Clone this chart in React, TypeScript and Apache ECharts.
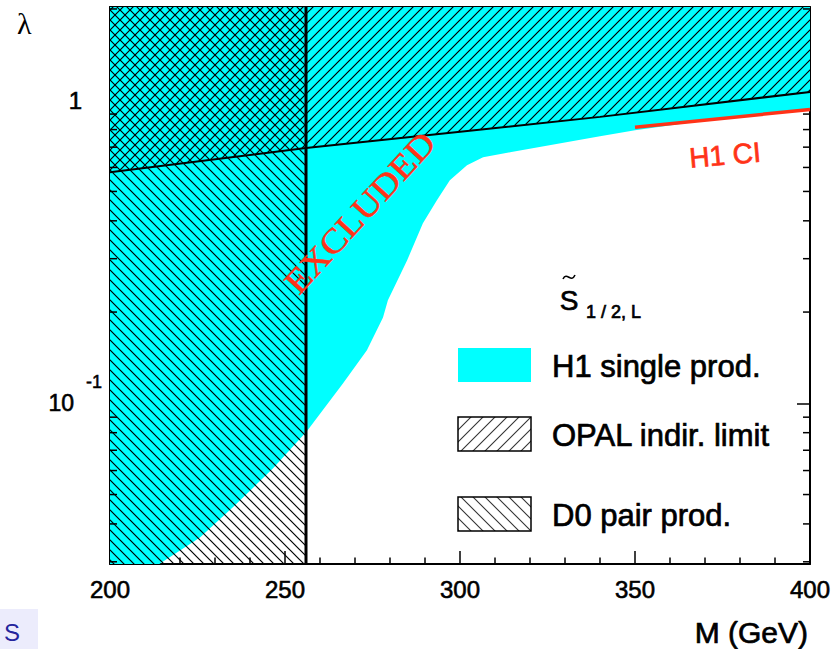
import React, { useEffect, useRef } from 'react';
import * as echarts from 'echarts';

// Axis ranges
const massMin = 200;
const massMax = 400;
const lambdaMin = 0.0295;
const lambdaMax = 2.03;

// Tick values
const massTicks = [200, 250, 300, 350, 400];
const lambdaTickLabels = [1, 0.1];
const lambdaMinorTicks = [0.03, 0.04, 0.05, 0.06, 0.07, 0.08, 0.09, 0.2, 0.3, 0.4, 0.5, 0.6, 0.7, 0.8, 0.9, 2];

// H1 single production limit (lower edge of the excluded region)
const h1Mass = [200, 214.3, 225.7, 235.1, 246.6, 256.3, 266.6, 273.4, 278, 279.4, 284.9, 289.4, 293.4, 297.1, 302.0, 306.6, 314.3, 340, 350, 368.6, 385.7, 400];
const h1Lambda = [0.023, 0.0296, 0.0361, 0.0454, 0.061, 0.081, 0.1164, 0.1496, 0.192, 0.2188, 0.2965, 0.3927, 0.4677, 0.5445, 0.6103, 0.6482, 0.6734, 0.7606, 0.796, 0.8525, 0.899, 0.934];

// OPAL indirect limit
const opalMass = [200, 256, 340, 400];
const opalLambda = [0.578, 0.695, 0.881, 1.065];

// D0 pair production mass limit
const d0MassLimit = 256;

// H1 contact interaction limit
const ciMass = [350, 400];
const ciLambda = [0.8145, 0.932];

const SANS = '"Liberation Sans", Arial, Helvetica, sans-serif';
const SERIF = '"Liberation Serif", "Times New Roman", serif';
const CYAN = '#00ffff';
const RED = '#ff3318';

function hatch(dir: 'fwd' | 'back', p: number, width: number, color: string) {
  const d =
    dir === 'fwd'
      ? `M0,${p} L${p},0 M-1,1 L1,-1 M${p - 1},${p + 1} L${p + 1},${p - 1}`
      : `M0,0 L${p},${p} M${p - 1},-1 L${p + 1},1 M-1,${p - 1} L1,${p + 1}`;
  const svg = `<svg xmlns='http://www.w3.org/2000/svg' width='${p}' height='${p}'><path d='${d}' stroke='${color}' stroke-width='${width}' fill='none'/></svg>`;
  return {
    image: 'data:image/svg+xml;charset=utf-8,' + encodeURIComponent(svg),
    repeat: 'repeat',
    imageWidth: p,
    imageHeight: p,
  };
}

const fwdHatch = hatch('fwd', 10, 1.2, '#000');
const backHatch = hatch('back', 10, 1.2, '#000');
const fwdHatchLegend = hatch('fwd', 12, 1.1, '#333');
const backHatchLegend = hatch('back', 12, 1.1, '#333');

function regionSeries(name: string, masses: number[], lambdas: number[], fill: any, z: number) {
  return {
    type: 'custom',
    name,
    coordinateSystem: 'cartesian2d',
    clip: true,
    silent: true,
    z,
    data: [[masses[0], lambdas[0]]],
    renderItem: (_params: any, api: any) => {
      const points = masses.map((m, i) => api.coord([m, lambdas[i]]));
      return { type: 'polygon', shape: { points }, style: { fill, stroke: null } };
    },
  };
}

const approx = (a: number, b: number) => Math.abs(a - b) / b < 1e-6;

// slightly heavier sans text, as in the printed figure
const heavy = (color: string, w = 0.7) => ({ textBorderColor: color, textBorderWidth: w });

function label(text: string, x: number, y: number, size: number, align = 'left') {
  return {
    type: 'text',
    x,
    y,
    style: {
      text,
      fill: '#000',
      font: `${size}px ${SANS}`,
      align,
      verticalAlign: 'middle',
      textAlign: align,
      textVerticalAlign: 'middle',
      stroke: '#000',
      lineWidth: 0.7,
    },
  };
}

export default function App() {
  const ref = useRef<HTMLDivElement>(null);

  useEffect(() => {
    if (!ref.current) return;
    const chart = echarts.init(ref.current, null, { renderer: 'svg' });

    const cyanMass = [...h1Mass, massMax, massMin];
    const cyanLambda = [...h1Lambda, lambdaMax, lambdaMax];
    const d0Mass = [massMin, d0MassLimit, d0MassLimit, massMin];
    const d0Lambda = [lambdaMin, lambdaMin, lambdaMax, lambdaMax];
    const opalRegionMass = [...opalMass, massMax, massMin];
    const opalRegionLambda = [...opalLambda, lambdaMax, lambdaMax];

    const xAxisBase = {
      type: 'value',
      min: massMin,
      max: massMax,
      interval: 50,
      axisLine: { show: true, onZero: false, lineStyle: { color: '#000', width: 2 } },
      axisTick: { show: true, inside: true, length: 13, lineStyle: { color: '#000', width: 1.5 } },
      minorTick: { show: true, splitNumber: 5, length: 6.5, lineStyle: { color: '#000', width: 1.5 } },
      splitLine: { show: false },
      minorSplitLine: { show: false },
    };
    const yAxisBase = {
      type: 'log',
      logBase: 10,
      min: lambdaMin,
      max: lambdaMax,
      axisLine: { show: true, onZero: false, lineStyle: { color: '#000', width: 2 } },
      axisTick: { show: true, inside: true, length: 13, lineStyle: { color: '#000', width: 1.5 } },
      splitLine: { show: false },
    };

    chart.setOption({
      animation: false,
      backgroundColor: '#fff',
      grid: { left: 110, right: 28, top: 7, bottom: 85, containLabel: false },
      xAxis: [
        {
          ...xAxisBase,
          position: 'bottom',
          axisLabel: {
            margin: 13,
            fontSize: 24,
            fontFamily: SANS,
            color: '#000',
            ...heavy('#000', 0.6),
            formatter: (v: number) => (massTicks.includes(v) ? String(v) : ''),
          },
        },
        { ...xAxisBase, position: 'top', axisLabel: { show: false } },
      ],
      yAxis: [
        {
          ...yAxisBase,
          position: 'left',
          axisLabel: {
            margin: 8,
            color: '#000',
            fontFamily: SANS,
            formatter: (v: number) => {
              if (approx(v, lambdaTickLabels[0])) return '{one|1}';
              if (approx(v, lambdaTickLabels[1])) return '{b|10}{s|-1}';
              return '';
            },
            rich: {
              one: { fontSize: 24, fontFamily: SANS, color: '#000', padding: [0, 20, 0, 0], ...heavy('#000', 0.6) },
              b: { fontSize: 23, fontFamily: SANS, color: '#000', ...heavy('#000', 0.6) },
              s: { fontSize: 18, fontFamily: SANS, color: '#000', padding: [0, 0, 42, 12], ...heavy('#000', 0.5) },
            },
          },
        },
        { ...yAxisBase, position: 'right', axisLabel: { show: false } },
      ],
      series: [
        regionSeries('H1 single prod.', cyanMass, cyanLambda, CYAN, 1),
        regionSeries('D0 pair prod.', d0Mass, d0Lambda, backHatch, 2),
        regionSeries('OPAL indir. limit', opalRegionMass, opalRegionLambda, fwdHatch, 3),
        {
          type: 'line',
          name: 'OPAL line',
          data: opalMass.map((m, i) => [m, opalLambda[i]]),
          symbol: 'none',
          silent: true,
          z: 4,
          lineStyle: { color: '#000', width: 2 },
        },
        {
          type: 'line',
          name: 'D0 line',
          data: [
            [d0MassLimit, lambdaMin],
            [d0MassLimit, lambdaMax],
          ],
          symbol: 'none',
          silent: true,
          z: 4,
          lineStyle: { color: '#000', width: 3 },
        },
        {
          type: 'line',
          name: 'H1 CI',
          data: ciMass.map((m, i) => [m, ciLambda[i]]),
          symbol: 'none',
          silent: true,
          z: 5,
          lineStyle: { color: RED, width: 3.5 },
        },
        // minor log ticks on both vertical frame edges
        {
          type: 'custom',
          name: 'minor ticks',
          coordinateSystem: 'cartesian2d',
          silent: true,
          z: 6,
          data: lambdaMinorTicks.map((v) => [massMin, v]),
          renderItem: (_params: any, api: any) => {
            const v = api.value(1);
            const l = api.coord([massMin, v]);
            const r = api.coord([massMax, v]);
            const st = { stroke: '#000', lineWidth: 1.5 };
            return {
              type: 'group',
              children: [
                { type: 'line', shape: { x1: l[0], y1: l[1], x2: l[0] + 7, y2: l[1] }, style: st },
                { type: 'line', shape: { x1: r[0], y1: r[1], x2: r[0] - 7, y2: r[1] }, style: st },
              ],
            };
          },
        },
        // region annotations
        {
          type: 'custom',
          name: 'annotations',
          coordinateSystem: 'cartesian2d',
          silent: true,
          z: 7,
          data: [[271.4, 0.427]],
          renderItem: (_params: any, api: any) => {
            const ex = api.coord([271.4, 0.425]);
            const ci = api.coord([375.7, 0.658]);
            return {
              type: 'group',
              children: [
                {
                  type: 'text',
                  x: ex[0],
                  y: ex[1],
                  rotation: (47.5 * Math.PI) / 180,
                  scaleX: 1.12,
                  style: {
                    text: 'EXCLUDED',
                    fill: RED,
                    font: `34px ${SERIF}`,
                    align: 'center',
                    verticalAlign: 'middle',
                    stroke: RED,
                    lineWidth: 0.5,
                  },
                },
                {
                  type: 'text',
                  x: ci[0],
                  y: ci[1],
                  rotation: (5 * Math.PI) / 180,
                  style: {
                    text: 'H1 CI',
                    fill: RED,
                    font: `28px ${SANS}`,
                    align: 'center',
                    verticalAlign: 'middle',
                    stroke: RED,
                    lineWidth: 0.7,
                  },
                },
              ],
            };
          },
        },
      ],
      graphic: [
        {
          type: 'text',
          left: 17,
          top: 8,
          style: { text: 'λ', fill: '#000', font: `30px ${SERIF}` },
        },
        label('M (GeV)', 808, 632, 30, 'right'),
        // legend title: S with tilde and subscript
        {
          type: 'bezierCurve',
          shape: { x1: 563, y1: 279, cpx1: 567, cpy1: 271, cpx2: 571, cpy2: 284, x2: 575, y2: 275 },
          style: { stroke: '#000', lineWidth: 1.6, fill: null },
        },
        label('S', 569, 300, 28, 'center'),
        label('1 / 2, L', 586, 312, 18, 'left'),
        // legend entries
        { type: 'rect', shape: { x: 458, y: 348, width: 73, height: 34 }, style: { fill: CYAN } },
        label('H1 single prod.', 552, 366, 31),
        { type: 'rect', shape: { x: 458, y: 417, width: 73, height: 34 }, style: { fill: '#fff' } },
        { type: 'rect', shape: { x: 458, y: 417, width: 73, height: 34 }, style: { fill: fwdHatchLegend, stroke: '#000', lineWidth: 1.5 } },
        label('OPAL indir. limit', 552, 435, 31),
        { type: 'rect', shape: { x: 458, y: 497, width: 73, height: 34 }, style: { fill: '#fff' } },
        { type: 'rect', shape: { x: 458, y: 497, width: 73, height: 34 }, style: { fill: backHatchLegend, stroke: '#000', lineWidth: 1.5 } },
        label('D0 pair prod.', 552, 515, 31),
        // slide corner tab
        { type: 'rect', shape: { x: 0, y: 609, width: 38, height: 40 }, style: { fill: '#ececfc' } },
        {
          type: 'text',
          x: 4,
          y: 632,
          style: { text: 'S', fill: '#24249c', font: `24px ${SANS}`, align: 'left', verticalAlign: 'middle', textAlign: 'left', textVerticalAlign: 'middle' },
        },
      ],
    });

    return () => chart.dispose();
  }, []);

  return (
    <div
      ref={ref}
      style={{ position: 'fixed', left: 0, top: 0, width: 838, height: 649, background: '#fff' }}
    />
  );
}
